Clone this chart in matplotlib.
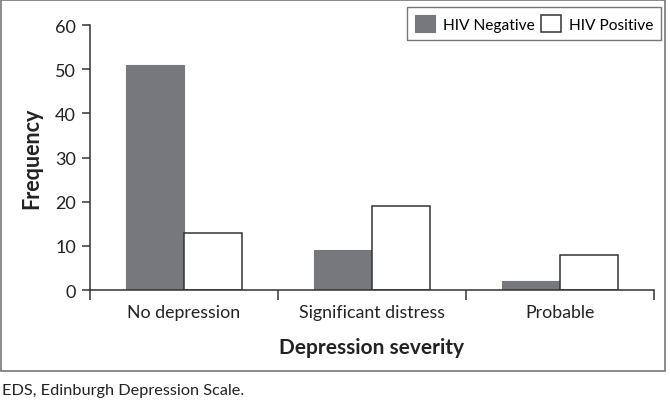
import numpy as np
import matplotlib
matplotlib.use('Agg')
import matplotlib.pyplot as plt
from matplotlib.patches import Rectangle

plt.rcParams['font.family'] = ['Lato', 'DejaVu Sans']

categories = ['No depression', 'Significant distress', 'Probable']
hiv_neg = [51, 9, 2]
hiv_pos = [13, 19, 8]

fig = plt.figure(figsize=(6.7, 4.02), dpi=100)
ax = fig.add_axes([0.134, 0.276, 0.842, 0.659])

x = np.arange(len(categories))
w = 0.31
ax.bar(x - w/2, hiv_neg, w, color='#77787b', edgecolor='#77787b', linewidth=0.8, label='HIV Negative')
ax.bar(x + w/2, hiv_pos, w, color='white', edgecolor='#333333', linewidth=1.1, label='HIV Positive')

ax.set_xlim(-0.5, 2.5)
ax.set_ylim(0, 60)
ax.set_yticks(np.arange(0, 61, 10))
ax.set_xticks([-0.5, 0.5, 1.5, 2.5])
ax.set_xticklabels([])
ax.set_xticks(x, minor=True)
ax.set_xticklabels(categories, minor=True, fontsize=12.8, color='#222222')
ax.tick_params(axis='x', which='minor', length=0, pad=10)
ax.tick_params(axis='x', which='major', length=7, width=1.1, color='#333333')
ax.tick_params(axis='y', length=6, width=1.1, color='#333333', labelsize=13, labelcolor='#222222', pad=4)
for s in ['top', 'right']:
    ax.spines[s].set_visible(False)
for s in ['left', 'bottom']:
    ax.spines[s].set_color('#333333')
    ax.spines[s].set_linewidth(1.1)

ax.set_ylabel('Frequency', fontsize=15.5, fontweight='bold', color='#222222', labelpad=9)
ax.set_xlabel('Depression severity', fontsize=15, fontweight='bold', color='#222222', labelpad=12)

leg = ax.legend(ncol=2, loc='upper right', bbox_to_anchor=(1.012, 1.068), borderaxespad=0,
                fontsize=11.2, frameon=True, fancybox=False, handlelength=1.3, handleheight=1.3,
                handletextpad=0.5, columnspacing=0.4, borderpad=0.5)
leg.get_frame().set_edgecolor('#555555')
leg.get_frame().set_linewidth(1.0)

fig.patches.append(Rectangle((0.002, 0.075), 0.99, 0.922, transform=fig.transFigure,
                             fill=False, edgecolor='#777777', linewidth=1.2))
fig.text(0.003, 0.018, 'EDS, Edinburgh Depression Scale.', fontsize=11.7, color='#222222')

fig.savefig('out.png', dpi=100)
